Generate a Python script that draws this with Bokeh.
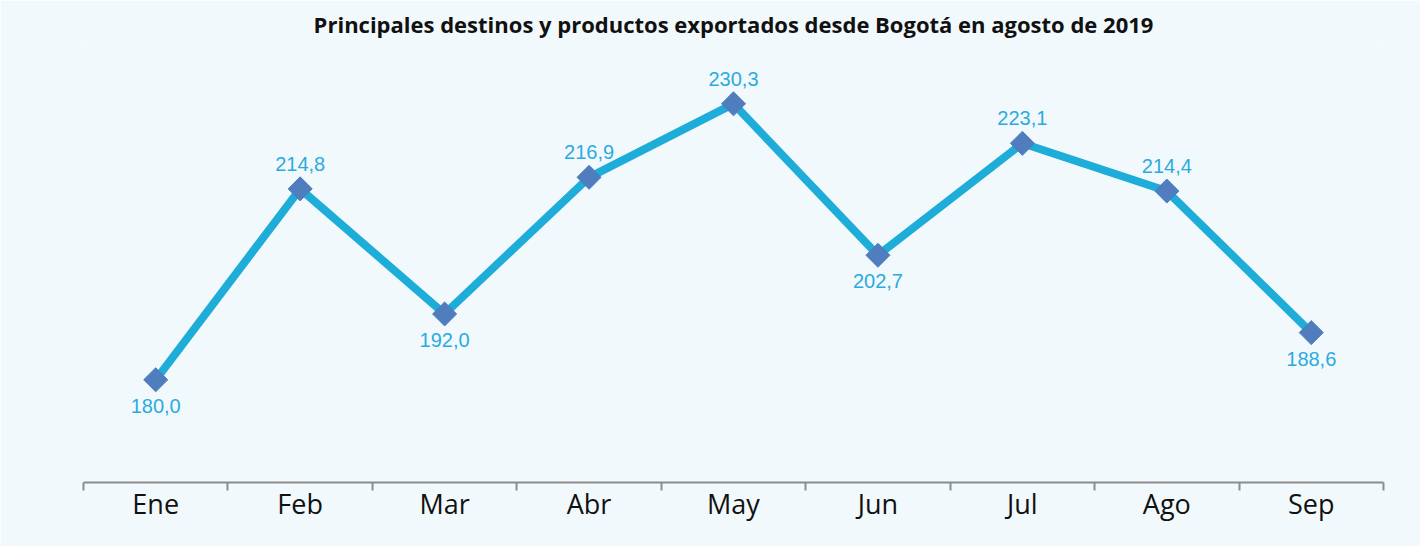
from bokeh.plotting import figure
from bokeh.models import ColumnDataSource, FixedTicker, Range1d, Title
from bokeh.core.properties import value
from bokeh.embed import file_html
from bokeh.resources import INLINE

title_text = "Principales destinos y productos exportados desde Bogotá en agosto de 2019"
months = ["Ene", "Feb", "Mar", "Abr", "May", "Jun", "Jul", "Ago", "Sep"]
values = [180.0, 214.8, 192.0, 216.9, 230.3, 202.7, 223.1, 214.4, 188.6]
label_side = ["below", "above", "below", "above", "above", "below", "above", "above", "below"]

BG = "#F2F9FC"
LINE = "#1EACD8"
MARK = "#4F7DBE"
LABEL = "#2AABE0"

xs = [i + 0.5 for i in range(len(months))]
texts = [f"{v:.1f}".replace(".", ",") for v in values]

src = ColumnDataSource(dict(x=xs, y=values))


def subset(side):
    keep = [i for i, s in enumerate(label_side) if s == side]
    return ColumnDataSource(dict(x=[xs[i] for i in keep],
                                 y=[values[i] for i in keep],
                                 t=[texts[i] for i in keep]))


p = figure(width=1420, height=546, output_backend="svg", toolbar_location=None,
           x_range=Range1d(0, len(months)), y_range=Range1d(161.28, 241.84),
           y_axis_location=None, min_border_left=83, min_border_right=37,
           min_border_bottom=64, min_border_top=40)
p.background_fill_color = BG
p.border_fill_color = BG
p.outline_line_color = None
p.xgrid.visible = False
p.ygrid.visible = False

p.title = Title(text=title_text, align="center", text_font="Open Sans",
                text_font_size="22px", text_font_style="bold", text_color="#111111",
                standoff=4)

p.line("x", "y", source=src, line_color=LINE, line_width=8)
p.scatter("x", "y", source=src, marker="square", size=17, angle=0.785398,
          fill_color=MARK, line_color=MARK)

for side, off in (("above", -25), ("below", 26)):
    p.text("x", "y", text="t", source=subset(side), y_offset=off,
           text_align="center", text_baseline="middle",
           text_font=value("Liberation Sans"), text_font_size="20px",
           text_color=LABEL)

ax = p.xaxis[0]
ax.ticker = FixedTicker(ticks=xs, minor_ticks=list(range(len(months) + 1)))
ax.major_label_overrides = {x: m for x, m in zip(xs, months)}
ax.axis_line_color = "#8C8C8C"
ax.axis_line_width = 2
ax.major_tick_line_color = None
ax.major_tick_out = 0
ax.major_tick_in = 0
ax.minor_tick_line_color = "#8C8C8C"
ax.minor_tick_line_width = 2
ax.minor_tick_out = 8
ax.minor_tick_in = 0
ax.major_label_standoff = -6
ax.major_label_text_font = "Open Sans"
ax.major_label_text_font_size = "27px"
ax.major_label_text_color = "#111111"

open("out.html", "w").write(file_html(p, INLINE))
